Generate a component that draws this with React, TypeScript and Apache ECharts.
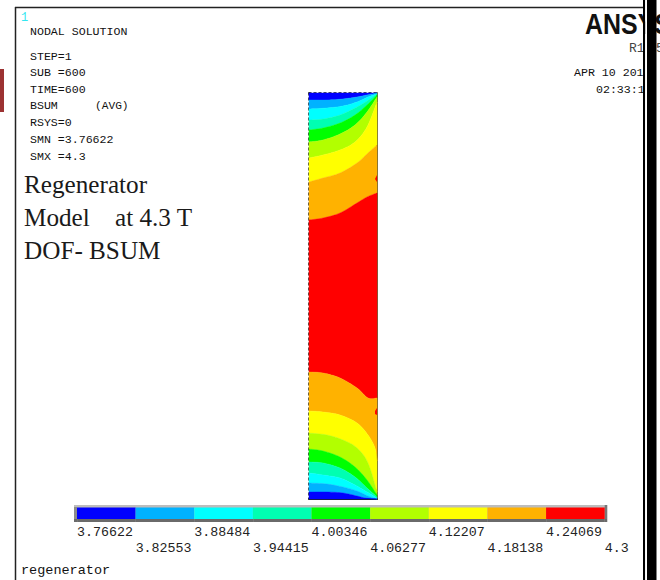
import React, { useEffect, useRef } from "react";
import * as echarts from "echarts";

// colour-bar levels and colours
const levels = [3.76622, 3.82553, 3.88484, 3.94415, 4.00346, 4.06277, 4.12207, 4.18138, 4.24069, 4.3];
const rowOneLevels = [3.76622, 3.88484, 4.00346, 4.12207, 4.24069];
const rowTwoLevels = [3.82553, 3.94415, 4.06277, 4.18138, 4.3];
const bandColors = ["#0000ff", "#00b2ff", "#00ffff", "#00ffb2", "#00ff00", "#b2ff00", "#ffff00", "#ffb200", "#ff0000"];

// model extents (width, height)
const modelWidth = 68;
const modelHeight = 406;

// contour boundaries: [x, depth from top]
const topEdge = [[0, 0], [68, 0]];
const blueTop = [[0, 7], [18, 7], [34, 6], [48, 4], [58, 2], [68, 0]];
const skyTop = [[0, 16], [18, 15], [34, 13], [48, 9], [59, 4], [68, 1]];
const cyanTop = [[0, 27], [14, 26], [31, 22], [46, 15], [58, 8], [68, 1]];
const tealTop = [[0, 37], [14, 35], [31, 30], [46, 22], [58, 12], [68, 2]];
const greenTop = [[0, 49], [14, 47], [31, 41], [46, 32], [58, 19], [68, 4]];
const limeTop = [[0, 65], [14, 62], [31, 57], [46, 49], [58, 34], [68, 9]];
const yellowTop = [[0, 89], [14, 85], [31, 80], [48, 70], [59, 60], [68, 52]];
const orangeTop = [[0, 127], [14, 125], [31, 120], [48, 110], [58, 104], [68, 100]];
const redBottom = [[0, 279], [14, 280], [31, 285], [48, 295], [59, 305], [68, 305]];
const orangeBottom = [[0, 318], [14, 319], [31, 322], [48, 330], [59, 342], [66, 355], [68, 368]];
const yellowBottom = [[0, 340], [18, 342], [34, 347], [48, 355], [59, 370], [68, 399]];
const limeBottom = [[0, 356], [14, 358], [31, 364], [46, 374], [58, 387], [68, 402]];
const greenBottom = [[0, 369], [14, 370], [31, 375], [46, 384], [58, 395], [68, 404]];
const tealBottom = [[0, 380], [14, 382], [31, 385], [46, 392], [58, 399], [68, 405]];
const cyanBottom = [[0, 390], [18, 391], [34, 394], [48, 398], [59, 403], [68, 406]];
const skyBottom = [[0, 399], [18, 399], [34, 400], [48, 403], [56, 405], [68, 406]];
const bottomEdge = [[0, 406], [68, 406]];
const redSpotTop = [[68, 82], [66, 86], [68, 89]];
const redSpotBottom = [[68, 315], [66, 318], [66, 321], [68, 322]];

// colour index, upper boundary, lower boundary
const bands: [number, number[][], number[][]][] = [
  [0, topEdge, blueTop],
  [1, blueTop, skyTop],
  [2, skyTop, cyanTop],
  [3, cyanTop, tealTop],
  [4, tealTop, greenTop],
  [5, greenTop, limeTop],
  [6, limeTop, yellowTop],
  [7, yellowTop, orangeTop],
  [8, orangeTop, redBottom],
  [7, redBottom, orangeBottom],
  [6, orangeBottom, yellowBottom],
  [5, yellowBottom, limeBottom],
  [4, limeBottom, greenBottom],
  [3, greenBottom, tealBottom],
  [2, tealBottom, cyanBottom],
  [1, cyanBottom, skyBottom],
  [0, skyBottom, bottomEdge],
];
const spots = [redSpotTop, redSpotBottom];

const infoLines: [string, number][] = [
  ["NODAL SOLUTION", 31.5],
  ["STEP=1", 56.5],
  ["SUB =600", 72.5],
  ["TIME=600", 89.5],
  ["BSUM", 105.5],
  ["RSYS=0", 122.5],
  ["SMN =3.76622", 139.5],
  ["SMX =4.3", 156.5],
];

const MONO = '"Liberation Mono", monospace';
const SERIF = '"Liberation Serif", serif';

function smoothLine(pts: number[][]) {
  if (pts.length < 3) return pts;
  const out: number[][] = [];
  for (let i = 0; i < pts.length - 1; i++) {
    const p0 = pts[Math.max(i - 1, 0)];
    const p1 = pts[i];
    const p2 = pts[i + 1];
    const p3 = pts[Math.min(i + 2, pts.length - 1)];
    for (let k = 0; k < 8; k++) {
      const t = k / 8;
      const t2 = t * t;
      const t3 = t2 * t;
      out.push([0, 1].map((d) =>
        0.5 * (2 * p1[d] + (p2[d] - p0[d]) * t + (2 * p0[d] - 5 * p1[d] + 4 * p2[d] - p3[d]) * t2 + (3 * p1[d] - p0[d] - 3 * p2[d] + p3[d]) * t3)
      ));
    }
  }
  out.push(pts[pts.length - 1]);
  return out;
}

function monoText(text: string, x: number, y: number, size: number, fill = "#111111", align = "left") {
  return {
    type: "text",
    x,
    y,
    z: 5,
    style: { text, fill, font: `${size}px ${MONO}`, textAlign: align, textVerticalAlign: "middle" },
  };
}

function serifText(text: string, x: number, y: number) {
  return {
    type: "text",
    x,
    y,
    z: 5,
    style: { text, fill: "#1a1a1a", font: `25.2px ${SERIF}`, textAlign: "left", textVerticalAlign: "middle" },
  };
}

export default function App() {
  const ref = useRef<HTMLDivElement>(null);
  useEffect(() => {
    if (!ref.current) return;
    const chart = echarts.init(ref.current, undefined, { renderer: "svg" });
    const hiddenAxis = { show: false };
    const dotted = { show: true, onZero: false, lineStyle: { color: "#111", width: 1.5, type: [2, 3] as any } };
    const solid = (color: string) => ({ show: true, onZero: false, lineStyle: { color, width: 2 } });
    const modelX = { type: "value", min: 0, max: modelWidth, gridIndex: 0, splitLine: hiddenAxis, axisTick: hiddenAxis, axisLabel: hiddenAxis };
    const modelY = { type: "value", min: 0, max: modelHeight, inverse: true, gridIndex: 0, splitLine: hiddenAxis, axisTick: hiddenAxis, axisLabel: hiddenAxis };
    const barAxis = (values: number[], margin: number) => ({
      type: "value",
      min: levels[0],
      max: levels[levels.length - 1],
      gridIndex: 1,
      position: "bottom",
      splitLine: hiddenAxis,
      axisLine: hiddenAxis,
      axisTick: { show: true, length: 3, customValues: values, lineStyle: { color: "#777", width: 1 } },
      axisLabel: {
        show: true,
        customValues: values,
        margin,
        align: "left",
        color: "#222",
        fontFamily: MONO,
        fontSize: 13.3,
        formatter: (v: number) => String(v),
      },
    });

    chart.setOption({
      animation: false,
      backgroundColor: "#ffffff",
      grid: [
        { left: 309, top: 93, width: 68, height: 406 },
        { left: 77, top: 507.5, width: 527.7, height: 11.5 },
      ],
      xAxis: [
        { ...modelX, position: "bottom", axisLine: solid("#222") },
        { ...modelX, position: "top", axisLine: dotted },
        barAxis(rowOneLevels, 7),
        barAxis(rowTwoLevels, 23),
      ],
      yAxis: [
        { ...modelY, position: "left", axisLine: dotted },
        { ...modelY, position: "right", axisLine: solid("#6b6440") },
        { type: "value", min: 0, max: 1, gridIndex: 1, show: false },
      ],
      series: [
        {
          type: "custom",
          name: "BSUM bands",
          coordinateSystem: "cartesian2d",
          xAxisIndex: 0,
          yAxisIndex: 0,
          silent: true,
          z: 1,
          data: bands.map((b, i) => [i, b[0]]),
          renderItem: (params: any, api: any) => {
            const band = bands[params.dataIndex];
            const line = [...smoothLine(band[1]), ...smoothLine(band[2]).reverse()];
            return {
              type: "polygon",
              shape: { points: line.map((p) => api.coord(p)) },
              style: { fill: bandColors[band[0]], stroke: bandColors[band[0]], lineWidth: 0.4 },
            };
          },
        },
        {
          type: "custom",
          name: "BSUM spots",
          coordinateSystem: "cartesian2d",
          xAxisIndex: 0,
          yAxisIndex: 0,
          silent: true,
          z: 1,
          data: spots.map((_, i) => [i, 0]),
          renderItem: (params: any, api: any) => ({
            type: "polygon",
            shape: { points: spots[params.dataIndex].map((p) => api.coord(p)) },
            style: { fill: bandColors[8] },
          }),
        },
        {
          type: "custom",
          name: "Colour bar",
          coordinateSystem: "cartesian2d",
          xAxisIndex: 2,
          yAxisIndex: 2,
          silent: true,
          z: 2,
          data: bandColors.map((_, i) => [levels[i], levels[i + 1]]),
          renderItem: (params: any, api: any) => {
            const a = api.coord([api.value(0), 1]);
            const b = api.coord([api.value(1), 0]);
            return {
              type: "rect",
              shape: { x: a[0], y: a[1], width: b[0] - a[0], height: b[1] - a[1] },
              style: { fill: bandColors[params.dataIndex] },
            };
          },
        },
      ],
      graphic: {
        elements: [
          // page furniture
          { type: "rect", z: 0, shape: { x: 0, y: 69, width: 4, height: 43 }, style: { fill: "#9c3232" } },
          { type: "line", z: 0, shape: { x1: 15.5, y1: 7, x2: 15.5, y2: 580 }, style: { stroke: "#222", lineWidth: 1.5 } },
          { type: "line", z: 0, shape: { x1: 15, y1: 7.5, x2: 645, y2: 7.5 }, style: { stroke: "#222", lineWidth: 1.5 } },
          // colour-bar frame
          { type: "rect", z: 0, shape: { x: 74, y: 505, width: 533, height: 17 }, style: { fill: "#bdbdbd" } },
          { type: "rect", z: 0, shape: { x: 74, y: 507, width: 3, height: 15 }, style: { fill: "#8c8c8c" } },
          { type: "rect", z: 0, shape: { x: 604.7, y: 505, width: 2.6, height: 17 }, style: { fill: "#777777" } },
          { type: "rect", z: 0, shape: { x: 74, y: 519, width: 533, height: 3 }, style: { fill: "#6a6a6a" } },
          // annotation
          monoText("1", 21, 18, 12, "#33e6f0"),
          ...infoLines.map(([t, y]) => monoText(t, 30, y, 11.6)),
          monoText("(AVG)", 95, 105.5, 11.2),
          serifText("Regenerator", 24, 184),
          serifText("Model", 24, 217),
          serifText("at 4.3 T", 115, 217),
          serifText("DOF- BSUM", 24, 250),
          monoText("regenerator", 21, 570, 13.5),
          {
            type: "text",
            x: 585,
            y: 24,
            z: 5,
            scaleX: 0.86,
            style: { text: "ANSYS", fill: "#111", font: `bold 29px "Liberation Sans", sans-serif`, textAlign: "left", textVerticalAlign: "middle" },
          },
          monoText("R1", 629, 48, 13, "#444"),
          monoText("5", 656, 48, 13, "#444"),
          monoText("APR 10 201", 574, 72, 11.6),
          monoText("02:33:1", 596, 89, 11.6),
          // black bars on the right
          { type: "rect", z: 8, shape: { x: 643, y: 0, width: 2.2, height: 580 }, style: { fill: "#000" } },
          { type: "rect", z: 8, shape: { x: 645.2, y: 0, width: 1.8, height: 580 }, style: { fill: "#fff" } },
          { type: "rect", z: 8, shape: { x: 647, y: 0, width: 9.5, height: 580 }, style: { fill: "#000" } },
        ],
      },
    });
    return () => chart.dispose();
  }, []);
  return <div ref={ref} style={{ position: "absolute", left: 0, top: 0, width: 660, height: 580 }} />;
}
